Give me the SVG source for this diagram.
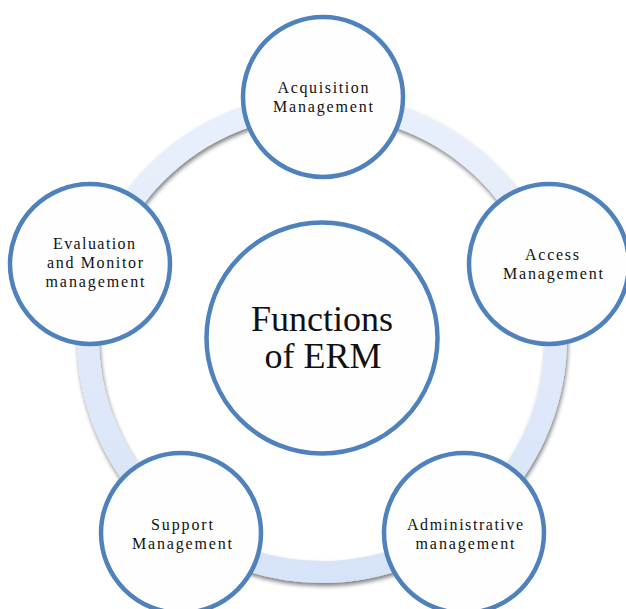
<svg xmlns="http://www.w3.org/2000/svg" width="626" height="609" viewBox="0 0 626 609">
  <style>
    .node { fill: #fefefe; stroke: #4f81bd; stroke-width: 4.5; }
    .lbl { font-family: "Liberation Serif", "Times New Roman", serif; font-size: 16px; fill: #111111; text-anchor: middle; }
    .big { font-family: "Liberation Serif", "Times New Roman", serif; font-size: 36px; fill: #111111; text-anchor: middle; }
  </style>
  <defs>
    <linearGradient id="ringFill" gradientUnits="userSpaceOnUse" x1="0" y1="100" x2="0" y2="580">
      <stop offset="0" stop-color="#e9f0fc"/>
      <stop offset="1" stop-color="#d7e3f8"/>
    </linearGradient>
    <filter id="ringShadow" x="-10%" y="-10%" width="120%" height="120%">
      <feGaussianBlur in="SourceAlpha" stdDeviation="2"/>
      <feOffset dx="1" dy="3" result="off"/>
      <feFlood flood-color="#000000" flood-opacity="0.5"/>
      <feComposite in2="off" operator="in" result="shadow"/>
      <feMerge>
        <feMergeNode in="shadow"/>
        <feMergeNode in="SourceGraphic"/>
      </feMerge>
    </filter>
  </defs>

  <rect width="626" height="609" fill="#ffffff"/>

  <!-- cycle ring joining the outer nodes -->
  <g id="connectors">
    <circle cx="322" cy="338" r="234" fill="none" stroke="url(#ringFill)" stroke-width="22" filter="url(#ringShadow)"/>
  </g>

  <g id="center">
    <circle class="node" cx="322" cy="338" r="115.5"/>
    <text class="big" x="322" y="331">Functions</text>
    <text class="big" x="323" y="368">of ERM</text>
  </g>

  <g id="acquisition">
    <circle class="node" cx="323" cy="97" r="80"/>
    <text class="lbl" x="323" y="93" textLength="91">Acquisition</text>
    <text class="lbl" x="323" y="112" textLength="100">Management</text>
  </g>

  <g id="access">
    <circle class="node" cx="549" cy="264" r="80"/>
    <text class="lbl" x="552" y="260" textLength="54">Access</text>
    <text class="lbl" x="553" y="279" textLength="100">Management</text>
  </g>

  <g id="administrative">
    <circle class="node" cx="464" cy="533" r="80"/>
    <text class="lbl" x="465" y="530" textLength="116">Administrative</text>
    <text class="lbl" x="465" y="549" textLength="99">management</text>
  </g>

  <g id="support">
    <circle class="node" cx="181" cy="533" r="80"/>
    <text class="lbl" x="182" y="530" textLength="62">Support</text>
    <text class="lbl" x="182" y="549" textLength="100">Management</text>
  </g>

  <g id="evaluation">
    <circle class="node" cx="90" cy="264" r="80"/>
    <text class="lbl" x="94" y="249" textLength="82">Evaluation</text>
    <text class="lbl" x="95" y="268" textLength="96">and Monitor</text>
    <text class="lbl" x="95" y="287" textLength="99">management</text>
  </g>
</svg>
